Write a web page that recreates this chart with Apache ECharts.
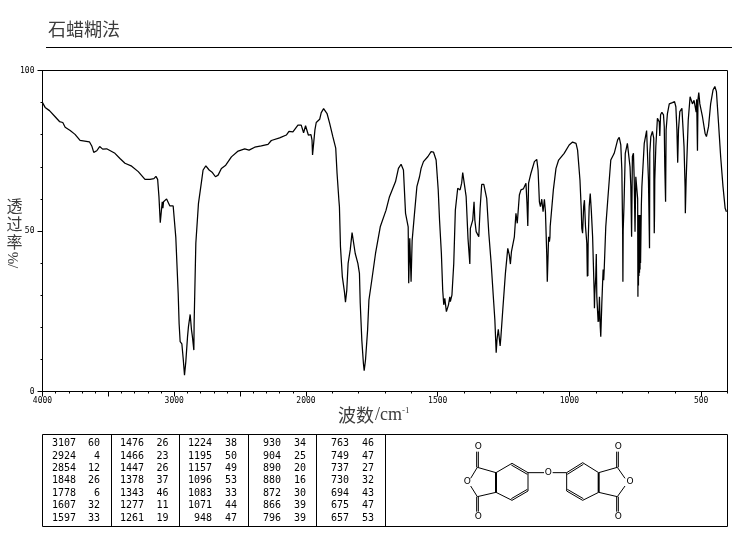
<!DOCTYPE html>
<html><head><meta charset="utf-8">
<style>html,body{margin:0;padding:0;background:#fff}#c{width:737px;height:539px}</style>
<script src="https://cdn.jsdelivr.net/npm/echarts@6/dist/echarts.min.js"></script>
</head><body><div id="c"></div>
<script>
const titleText = '石蜡糊法';
const yTickValues = [0, 50, 100];
const xLabelWaves = [4000, 3000, 2000, 1500, 1000, 500];
const spectrumWave = [4000,3980,3947,3904,3871,3846,3828,3790,3753,3715,3644,3626,3611,3588,3566,3543,3513,3450,3412,3374,3323,3273,3222,3184,3154,3139,3126,3116,3106,3091,3086,3081,3058,3033,3008,2988,2970,2963,2955,2942,2932,2922,2912,2899,2892,2879,2869,2862,2851,2849,2836,2816,2793,2781,2760,2735,2710,2687,2667,2642,2609,2566,2515,2465,2432,2389,2339,2288,2263,2200,2149,2129,2099,2061,2036,2018,2003,1996,1991,1986,1981,1977,1975,1970,1966,1961,1948,1942,1933,1920,1910,1898,1887,1882,1875,1873,1869,1862,1854,1850,1845,1840,1832,1825,1820,1813,1803,1797,1794,1788,1782,1779,1774,1766,1761,1751,1736,1718,1696,1683,1660,1649,1639,1630,1622,1612,1610,1606,1604,1601,1597,1588,1579,1569,1563,1554,1537,1525,1516,1506,1498,1493,1486,1481,1477,1473,1467,1459,1454,1452,1446,1439,1433,1424,1415,1409,1405,1400,1392,1385,1378,1376,1367,1362,1359,1354,1344,1339,1333,1325,1314,1306,1297,1288,1283,1278,1275,1270,1263,1260,1253,1243,1234,1228,1224,1220,1209,1203,1198,1190,1184,1175,1165,1161,1158,1155,1146,1133,1124,1119,1114,1110,1105,1100,1095,1091,1086,1084,1081,1079,1076,1074,1073,1061,1051,1041,1020,1001,988,975,969,960,955,953,950,946,943,939,934,932,931,930,929,925,921,917,912,906,905,904,900,898,896,891,890,889,886,883,881,877,874,872,870,868,862,855,843,830,817,811,805,801,798,797,796,793,788,780,773,770,767,764,761,757,754,751,748,745,741,740,739,738,737,736,735,734,733,732,731,730,727,725,716,707,704,700,697,696,695,691,688,685,680,679,678,677,676,672,666,663,659,657,655,654,649,643,640,638,635,633,628,621,609,601,596,592,589,586,581,573,568,565,561,560,557,549,542,538,533,527,523,519,517,514,512,509,505,495,485,480,472,464,455,448,442,434,426,417,409,404];
const spectrumT = [90,88.5,87.5,85.6,84.1,83.8,82.3,81.3,80.1,78.2,77.8,76.5,74.5,75,76.3,75.5,75.6,74.2,72.6,71.1,70.2,68.5,66.1,66.1,66.3,67,66.1,60.7,52.6,59.1,57.1,59.1,60,57.8,57.8,48,30.6,21.2,15.5,14.8,10.3,5.1,9.3,17.1,20.2,24,19.2,17.1,12.9,21.2,46.2,58.6,65.4,69,70.3,69,68.2,66.9,67.4,69.5,70.5,73.1,74.9,75.6,75.2,76.1,76.5,77,78.2,79,79.9,81,80.9,83,83,80.6,82.8,82.5,79.9,80.4,80,78.3,73.7,73.7,81.5,83.8,84.8,86.9,88.1,86.6,83.5,79.4,75.8,68,59.6,57.6,45.1,35.8,31.1,27.8,31.6,39.9,44.1,49.5,49.5,43,39.9,36.8,27.5,16,8.8,6.5,9.8,19.2,28.5,34.2,43,51.3,56.5,60.7,65.4,69.5,70.8,69,55.5,51.3,33.7,47.7,47.7,34.2,47,55.5,63.8,66.9,69.5,71.6,73.2,74.7,74.6,72.1,62.8,53.4,43,31.6,27,29,24.9,27,29.5,28,30,39.9,56.5,63.3,62.8,64.9,68.2,68,60.7,47.7,39.7,50.8,53.4,59.1,53.4,49.8,48.2,57,64.5,64.5,60.2,49.3,39.9,28.5,22.3,12.1,16,19.4,14.2,17.1,25.4,36.8,44.6,42.5,39.7,43.6,48.2,55.5,52.4,61.2,62.8,63.1,64.9,58.6,51.6,64.9,68,71.6,72.3,69,59.1,57.6,59.9,56,59.9,56,42.5,34.2,42.5,48.2,46.7,48,51.4,62.8,69.5,72.1,74.2,76.8,77.7,77.3,75.2,65.9,56.5,50.8,49.3,57.6,59.6,51.4,46.2,35.8,46,36,46,57.6,61.7,56.5,48.2,30.6,25.9,30,35.8,42.8,29.5,21.7,25,21.7,29.5,20.2,17.1,27.5,34,38,34.7,38,51.4,59.1,72.1,74.2,78.4,79.2,76.8,69,50,34.2,50,57.6,74.2,77.3,77.1,70,64,48.2,73.2,74.2,65.9,49.8,66.9,67.4,60,29.5,55,33,55,36,55,37,55,38,55,40,58,63.8,77.3,81.3,80.9,65.9,50,44.6,74.2,79.4,79.4,81,78.9,60,49.3,55,65.9,76.3,85.1,85.6,84,79.6,84,86.2,87,86.2,82.5,70,59.1,81.5,86.6,89.6,90,90.3,88.7,81.5,71.3,81.5,87.2,88.2,87.7,76.3,63.8,55.5,65.9,84.6,91.8,91.8,89.6,90.7,91.3,87,91,75,91,93.1,89.6,85.6,80.4,79.4,82.5,89.6,93.9,95,93.4,83.5,73.2,63.8,57.1,56];
const peakWaves = [3107,2924,2854,1848,1778,1607,1597,1476,1466,1447,1378,1343,1277,1261,1224,1195,1157,1096,1083,1071,948,930,904,890,880,872,866,796,763,749,737,730,694,675,657];
const peakValues = [60,4,12,26,6,32,33,26,23,26,37,46,11,19,38,50,49,53,33,44,47,34,25,20,16,30,39,39,46,47,27,32,43,47,53];

// The instrument prints 4000-2000 at half the scale of 2000-400.
function waveToAxis(w){ return w >= 2000 ? 4000 - w : 2000 + (2000 - w) * 2; }
function axisToWave(u){ return u <= 2000 ? 4000 - u : 2000 - (u - 2000) / 2; }
const axisEnd = waveToAxis(400);
const majorTicks = [4000,3500,3000,2500,2000,1500,1000,500].map(waveToAxis);
const minorTicks = [];
for (let w = 4000; w >= 400; w -= 100) { minorTicks.push(waveToAxis(w)); }

const mono = '"DejaVu Sans Mono", monospace';
const cjk = '"Noto Sans CJK SC", sans-serif';
const ink = '#000';
const soft = '#3c3c3c';
const graphics = [];
function txt(x, y, s, size, o){
  o = o || {};
  graphics.push({type:'text', x, y, rotation:o.rot||0, silent:true, style:{text:s, fontSize:size, fontFamily:o.font||mono, fill:o.fill||ink, align:o.align||'left', verticalAlign:'middle'}});
}
function seg(x1,y1,x2,y2,w,c){
  graphics.push({type:'line', silent:true, shape:{x1,y1,x2,y2}, style:{stroke:c||ink, lineWidth:w||1}});
}

// header
txt(48, 29.5, titleText, 18, {font:cjk, fill:soft});
seg(46, 47.5, 732, 47.5);

// axis names
txt(14.5, 206, '透', 16, {font:cjk, fill:soft, align:'center'});
txt(14.5, 224, '过', 16, {font:cjk, fill:soft, align:'center'});
txt(14.5, 242, '率', 16, {font:cjk, fill:soft, align:'center'});
txt(14.5, 260, '/%', 15, {font:'"Liberation Serif", serif', fill:soft, align:'center', rot:Math.PI/2});
txt(338, 415, '波数', 18, {font:cjk, fill:soft});
txt(375, 415, '/cm', 18, {font:'"Liberation Serif", serif', fill:soft});
txt(402, 411, '-1', 9, {font:'"Liberation Serif", serif', fill:soft});

// peak table
const tTop = 434.5, tBottom = 526.5, tLeft = 42.5, tRight = 727.5;
seg(tLeft,tTop,tRight,tTop); seg(tLeft,tBottom,tRight,tBottom); seg(tLeft,tTop,tLeft,tBottom); seg(tRight,tTop,tRight,tBottom);
[111.5,179.5,248.5,316.5,385.5].forEach(x => seg(x,tTop,x,tBottom));
const waveRight = [76,144,212,281,349], valueRight = [100,168.5,237,306,374];
const rowY = [443.5,456,468.5,480.5,493,505.5,518];
peakWaves.forEach((w,i) => {
  const c = Math.floor(i/7), r = i%7;
  txt(waveRight[c], rowY[r], String(w), 10, {align:'right'});
  txt(valueRight[c], rowY[r], String(peakValues[i]), 10, {align:'right'});
});

// structure sketch in the last table cell
const mx = X => 370 + X/3, my = Y => 330 + Y/3;
function bond(a,b,c,d,w){ seg(mx(a),my(b),mx(c),my(d),w||1); }
function dbl(a,b,c,d,dx,dy){ bond(a,b,c,d); bond(a+dx,b+dy,c+dx,d+dy); }
[[378,428,426,400],[474,428,474,483],[426,511,378,487],[378,428,322,412],[322,412,302,445],[322,500,302,468],[322,500,378,487],
 [474,428,522,428],[548,428,590,428],[590,428,590,483],[638,398,686,428],[686,487,638,511],[686,428,742,412],[742,412,765,445],[742,500,765,468],[742,500,686,487]].forEach(b => bond(...b));
bond(378,428,378,487,2); bond(686,428,686,487,2);
dbl(426,400,474,428,-2,5); dbl(474,483,426,511,-2,-5); dbl(590,428,638,398,2,5); dbl(590,483,638,511,2,-5);
dbl(320,412,320,365,5,0); dbl(320,500,320,545,5,0); dbl(740,412,740,365,5,0); dbl(740,500,740,545,5,0);
[[325,349],[325,561],[292,456],[535,428],[745,349],[745,561],[780,456]].forEach(p => txt(mx(p[0]), my(p[1]), 'O', 9, {font:'"DejaVu Sans", sans-serif', align:'center'}));

const chart = echarts.init(document.getElementById('c'), null, {renderer:'canvas'});
const spectrum = spectrumWave.map((w,i) => [waveToAxis(w), spectrumT[i]]);
const line = {show:true, lineStyle:{color:ink, width:1}};
chart.setOption({
  animation:false,
  backgroundColor:'#fff',
  grid:{left:42.5, right:9.5, top:70.5, bottom:147.5, show:true, borderColor:ink, borderWidth:1, backgroundColor:'transparent'},
  xAxis:[
    {type:'value', position:'bottom', min:0, max:axisEnd, interval:1000, splitLine:{show:false}, axisLine:line,
     axisTick:{show:true, length:5, customValues:majorTicks, lineStyle:{color:ink}},
     axisLabel:{show:true, margin:5, color:ink, fontSize:8, fontFamily:mono, customValues:xLabelWaves.map(waveToAxis), formatter:u => String(axisToWave(u))}},
    {type:'value', position:'bottom', min:0, max:axisEnd, splitLine:{show:false}, axisLine:{show:false},
     axisTick:{show:true, length:2, customValues:minorTicks, lineStyle:{color:ink}}, axisLabel:{show:false}}
  ],
  yAxis:[
    {type:'value', position:'left', min:0, max:100, interval:50, splitLine:{show:false}, axisLine:line,
     axisTick:{show:true, length:5, lineStyle:{color:ink}},
     axisLabel:{show:true, margin:8, color:ink, fontSize:8, fontFamily:mono, customValues:yTickValues}},
    {type:'value', position:'left', min:0, max:100, interval:10, splitLine:{show:false}, axisLine:{show:false},
     axisTick:{show:true, length:2, lineStyle:{color:ink}}, axisLabel:{show:false}}
  ],
  series:[{type:'line', xAxisIndex:0, yAxisIndex:0, data:spectrum, showSymbol:false, symbol:'none', smooth:false, clip:true,
    lineStyle:{color:ink, width:1.25}, emphasis:{disabled:true}, silent:true}],
  graphic:{elements:graphics}
});
</script></body></html>
